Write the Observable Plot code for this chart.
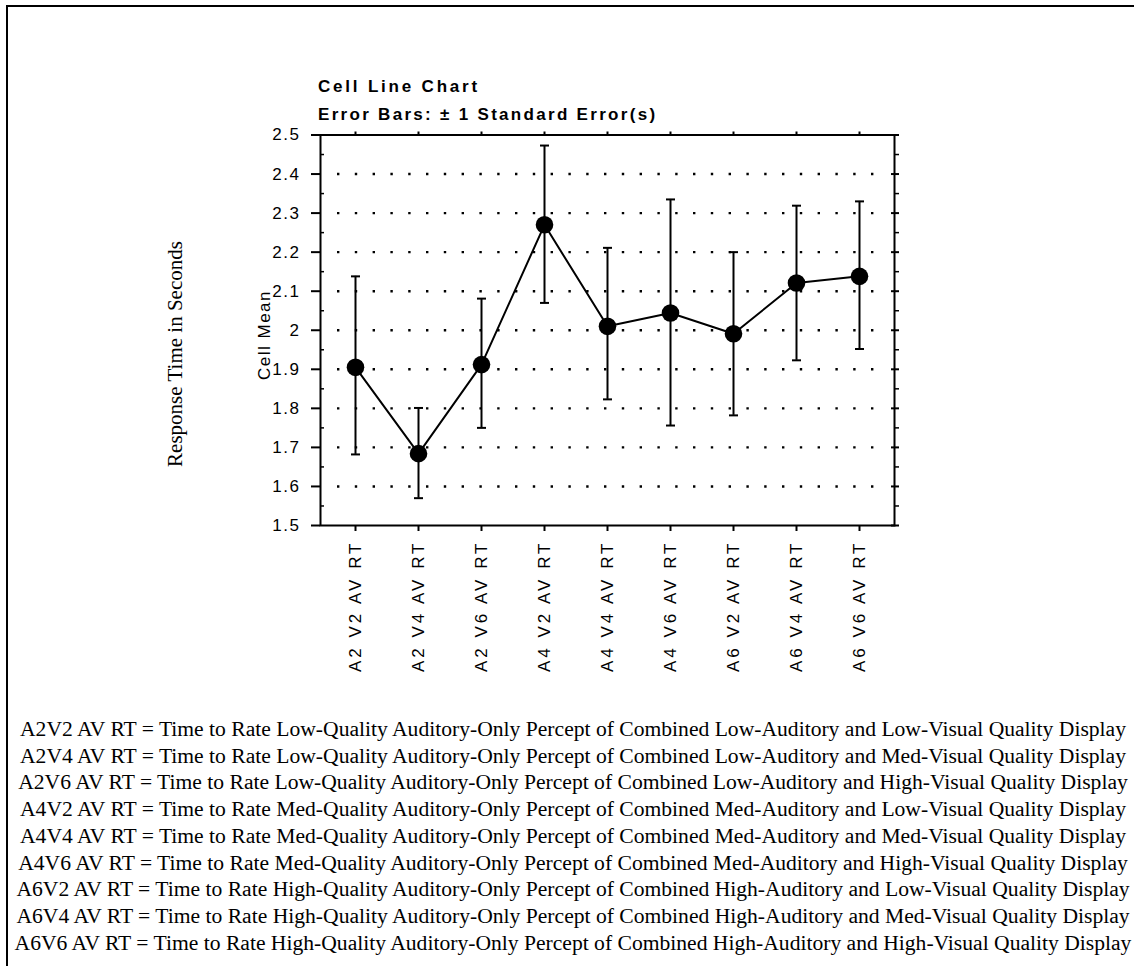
<!DOCTYPE html>
<html>
<head>
<meta charset="utf-8">
<script src="https://cdn.jsdelivr.net/npm/d3@7"></script>
<script src="https://cdn.jsdelivr.net/npm/@observablehq/plot@0.6"></script>
<style>
  body { margin: 0; background: #fff; }
  #page { position: relative; width: 1134px; height: 966px; overflow: hidden; background: #fff; }
  #border { position: absolute; left: 6px; top: 5px; right: -10px; bottom: -10px; border-left: 2px solid #000; border-top: 2px solid #000; }
  #chart { position: absolute; left: 0; top: 0; }
  .title { position: absolute; left: 318px; font-family: "Liberation Sans", Arial, sans-serif; font-weight: bold; font-size: 17px; line-height: 17px; color: #000; white-space: nowrap; }
  #t1 { top: 78px; letter-spacing: 2.8px; }
  #t2 { top: 106px; letter-spacing: 2.3px; }
  .rot { position: absolute; white-space: nowrap; color: #000; transform: translate(-50%, -50%) rotate(-90deg); }
  #ylabInner { left: 265px; top: 335px; font-family: "Liberation Sans", Arial, sans-serif; font-size: 17px; letter-spacing: 1.5px; }
  #ylabOuter { left: 175px; top: 354px; font-family: "Liberation Serif", "Times New Roman", serif; font-size: 21px; }
  #legend { position: absolute; left: 0; width: 1146px; top: 716px; font-family: "Liberation Serif", "Times New Roman", serif; font-size: 21.6px; line-height: 26.7px; text-align: center; color: #000; white-space: nowrap; }
</style>
</head>
<body>
<div id="page">
  <div id="border"></div>
  <div id="chart"></div>
  <div class="title" id="t1"></div>
  <div class="title" id="t2"></div>
  <div class="rot" id="ylabInner"></div>
  <div class="rot" id="ylabOuter"></div>
  <div id="legend"></div>
</div>
<script>
const categories = ["A2 V2 AV RT", "A2 V4 AV RT", "A2 V6 AV RT", "A4 V2 AV RT", "A4 V4 AV RT", "A4 V6 AV RT", "A6 V2 AV RT", "A6 V4 AV RT", "A6 V6 AV RT"];
const cellMeans = [1.905, 1.684, 1.912, 2.270, 2.010, 2.044, 1.991, 2.121, 2.138];
const upperErr  = [2.138, 1.801, 2.081, 2.473, 2.211, 2.335, 2.200, 2.319, 2.330];
const lowerErr  = [1.682, 1.570, 1.750, 2.070, 1.823, 1.756, 1.782, 1.923, 1.952];
const yTicks = [1.5, 1.6, 1.7, 1.8, 1.9, 2.0, 2.1, 2.2, 2.3, 2.4, 2.5];
const yMinorTicks = [1.55, 1.65, 1.75, 1.85, 1.95, 2.05, 2.15, 2.25, 2.35, 2.45];
const gridLevels = [1.6, 1.7, 1.8, 1.9, 2.0, 2.1, 2.2, 2.3, 2.4];
const titleText = "Cell Line Chart";
const subtitleText = "Error Bars: \u00b1 1 Standard Error(s)";
const yLabelInner = "Cell Mean";
const yLabelOuter = "Response Time in Seconds";
const legendLines = [
  "A2V2 AV RT = Time to Rate Low-Quality Auditory-Only Percept of Combined Low-Auditory and Low-Visual Quality Display",
  "A2V4 AV RT = Time to Rate Low-Quality Auditory-Only Percept of Combined Low-Auditory and Med-Visual Quality Display",
  "A2V6 AV RT = Time to Rate Low-Quality Auditory-Only Percept of Combined Low-Auditory and High-Visual Quality Display",
  "A4V2 AV RT = Time to Rate Med-Quality Auditory-Only Percept of Combined Med-Auditory and Low-Visual Quality Display",
  "A4V4 AV RT = Time to Rate Med-Quality Auditory-Only Percept of Combined Med-Auditory and Med-Visual Quality Display",
  "A4V6 AV RT = Time to Rate Med-Quality Auditory-Only Percept of Combined Med-Auditory and High-Visual Quality Display",
  "A6V2 AV RT = Time to Rate High-Quality Auditory-Only Percept of Combined High-Auditory and Low-Visual Quality Display",
  "A6V4 AV RT = Time to Rate High-Quality Auditory-Only Percept of Combined High-Auditory and Med-Visual Quality Display",
  "A6V6 AV RT = Time to Rate High-Quality Auditory-Only Percept of Combined High-Auditory and High-Visual Quality Display"
];

const data = categories.map((c, i) => ({cat: c, mean: cellMeans[i], hi: upperErr[i], lo: lowerErr[i]}));

// horizontal cap symbol for error bars
const capSymbol = {
  draw(context, size) {
    const w = 4.5;
    context.moveTo(-w, 0);
    context.lineTo(w, 0);
  }
};

const font = '"Liberation Sans", Arial, sans-serif';

const chart = Plot.plot({
  width: 1134,
  height: 690,
  marginLeft: 320,
  marginRight: 240,
  marginTop: 134.5,
  marginBottom: 165,
  style: {fontFamily: font, fontSize: "17px", color: "#000", background: "transparent", overflow: "visible"},
  x: {type: "point", domain: categories, padding: 0.5, label: null},
  y: {domain: [1.5, 2.5], label: null},
  marks: [
    Plot.ruleY(gridLevels, {stroke: "#000", strokeWidth: 2.4, strokeDasharray: "2.4,15.4", insetLeft: 17, insetRight: 18}),
    Plot.ruleX(data, {x: "cat", y1: "lo", y2: "hi", stroke: "#000", strokeWidth: 2}),
    Plot.dot(data, {x: "cat", y: "hi", symbol: capSymbol, r: 5, stroke: "#000", strokeWidth: 2, fill: "none"}),
    Plot.dot(data, {x: "cat", y: "lo", symbol: capSymbol, r: 5, stroke: "#000", strokeWidth: 2, fill: "none"}),
    Plot.line(data, {x: "cat", y: "mean", stroke: "#000", strokeWidth: 2}),
    Plot.dot(data, {x: "cat", y: "mean", r: 8.8, fill: "#000", stroke: null}),
    Plot.frame({stroke: "#000", strokeWidth: 2}),
    Plot.axisY({ticks: yTicks, anchor: "left", tickSize: 9, tickPadding: 11, strokeWidth: 2, label: null, fontSize: 17, tickFormat: d => `${d}`}),
    Plot.axisY({ticks: yMinorTicks, anchor: "left", tickSize: 4, dx: 4, tickFormat: () => "", label: null, strokeWidth: 1.5}),
    Plot.axisY({ticks: yTicks, anchor: "right", tickSize: 8, dx: -4, tickFormat: () => "", label: null, strokeWidth: 2}),
    Plot.axisY({ticks: yMinorTicks, anchor: "right", tickSize: 4, tickFormat: () => "", label: null, strokeWidth: 1.5}),
    Plot.axisX({anchor: "top", tickSize: 4, tickFormat: () => "", label: null, strokeWidth: 2}),
    Plot.axisX({anchor: "bottom", tickSize: 6, tickPadding: 9, tickRotate: -90, label: null, strokeWidth: 2, fontSize: 17})
  ]
});

document.getElementById("chart").appendChild(chart);

// letter-spaced Helvetica look of the original
d3.select(chart).selectAll('[aria-label="x-axis tick label"] text').attr("letter-spacing", "3px");
d3.select(chart).selectAll('[aria-label="y-axis tick label"] text').attr("letter-spacing", "1.5px");

document.getElementById("t1").textContent = titleText;
document.getElementById("t2").textContent = subtitleText;
document.getElementById("ylabInner").textContent = yLabelInner;
document.getElementById("ylabOuter").textContent = yLabelOuter;
const legend = document.getElementById("legend");
legendLines.forEach(t => {
  const d = document.createElement("div");
  d.textContent = t;
  legend.appendChild(d);
});
</script>
</body>
</html>
